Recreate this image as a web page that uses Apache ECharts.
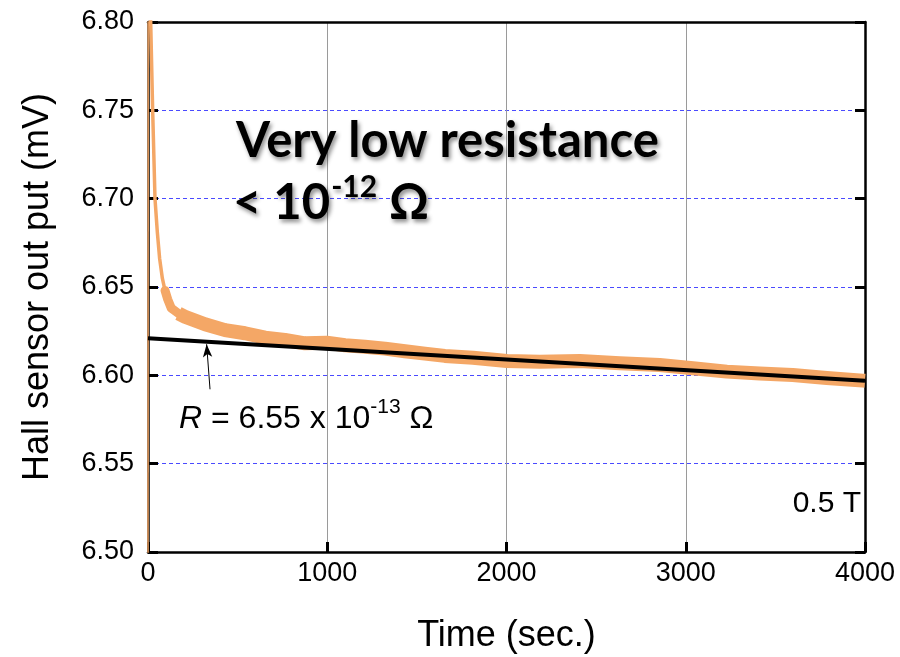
<!DOCTYPE html>
<html>
<head>
<meta charset="utf-8">
<script src="https://cdn.jsdelivr.net/npm/echarts@6/dist/echarts.min.js"></script>
<style>html,body{margin:0;padding:0;background:#fff;}#c{width:900px;height:657px;}</style>
</head>
<body>
<div id="c"></div>
<script>
// ---- data ----
var xTicks = [0, 1000, 2000, 3000, 4000];
var yTicks = [6.50, 6.55, 6.60, 6.65, 6.70, 6.75, 6.80];

// initial jump at t = 0 (thin vertical trace)
var jumpTime = [0, 1];
var jumpVal = [6.45, 6.87];

// steep decay part (thin trace)
var steepTime = [2, 8, 15, 26, 39, 52, 65, 80, 95, 110];
var steepVal  = [6.86, 6.84, 6.80, 6.75, 6.70, 6.681, 6.666, 6.655, 6.648, 6.643];

// elbow (medium width)
var elbowTime = [95, 110, 130, 170, 206, 260];
var elbowVal  = [6.648, 6.643, 6.638, 6.635, 6.6332, 6.631];

// measured band (thick trace)
var bandTime = [170, 206, 318, 430, 541, 653, 764, 876, 997, 1099, 1210, 1322, 1433, 1545, 1656, 1813, 2002, 2186, 2409, 2632, 2855, 3040, 3229, 3413, 3597, 3787, 3988, 4000];
var bandVal  = [6.6350, 6.6332, 6.6289, 6.6256, 6.6238, 6.6213, 6.6200, 6.6181, 6.6185, 6.6170, 6.6162, 6.6151, 6.6136, 6.6123, 6.6110, 6.6100, 6.6081, 6.6077, 6.6081, 6.6068, 6.6058, 6.6040, 6.6021, 6.6011, 6.6002, 6.5985, 6.5970, 6.5969];

// linear fit
var fitTime = [0, 4000];
var fitVal  = [6.621, 6.597];

// arrow annotation (tail -> head), data coordinates
var arrowTail = [346, 6.5921];
var arrowHead = [327, 6.6176];

function pairs(a, b) { return a.map(function (v, i) { return [v, b[i]]; }); }

var X_MIN = xTicks[0], X_MAX = xTicks[xTicks.length - 1];
var Y_MIN = yTicks[0], Y_MAX = yTicks[yTicks.length - 1];
var ORANGE = '#F4A766';
var chart = echarts.init(document.getElementById('c'), null, {renderer: 'canvas'});

var tickFont = {fontFamily: 'Liberation Sans', fontSize: 27, color: '#000'};
var shadow = {textShadowColor: 'rgba(0,0,0,0.45)', textShadowBlur: 4, textShadowOffsetX: 2, textShadowOffsetY: 3};
var frameLine = {show: true, onZero: false, lineStyle: {color: '#000', width: 2.5}};
var inTick = {show: true, inside: true, length: 10, lineStyle: {color: '#000', width: 3}};

chart.setOption({
  animation: false,
  backgroundColor: '#fff',
  grid: {left: 148, right: 35, top: 22, bottom: 105, containLabel: false, outerBoundsMode: 'none'},
  xAxis: [{
    type: 'value', min: X_MIN, max: X_MAX, interval: 1000,
    position: 'bottom',
    name: 'Time (sec.)', nameLocation: 'middle', nameGap: 66,
    nameTextStyle: {fontFamily: 'Liberation Sans', fontSize: 36, color: '#000'},
    axisLine: frameLine,
    axisTick: inTick,
    axisLabel: Object.assign({margin: 8, formatter: function (v) { return String(v); }}, tickFont),
    splitLine: {show: true, lineStyle: {color: '#9a9a9a', width: 1}}
  }, {
    type: 'value', min: X_MIN, max: X_MAX, interval: 1000, position: 'top',
    axisLine: frameLine,
    axisTick: {show: false}, axisLabel: {show: false}, splitLine: {show: false}
  }],
  yAxis: [{
    type: 'value', min: Y_MIN, max: Y_MAX, interval: 0.05, position: 'left',
    name: 'Hall sensor out put (mV)', nameLocation: 'middle', nameGap: 92,
    nameTextStyle: {fontFamily: 'Liberation Sans', fontSize: 36, color: '#000'},
    axisLine: frameLine,
    axisTick: inTick,
    axisLabel: Object.assign({margin: 14, formatter: function (v) { return v.toFixed(2); }}, tickFont),
    splitLine: {show: true, lineStyle: {color: '#4a4aff', width: 1, type: [4, 3]}}
  }, {
    type: 'value', min: Y_MIN, max: Y_MAX, interval: 0.05, position: 'right',
    axisLine: frameLine,
    axisTick: inTick,
    axisLabel: {show: false}, splitLine: {show: false}
  }],
  series: [{
    type: 'line', name: 'jump', data: pairs(jumpTime, jumpVal), showSymbol: false, symbol: 'none',
    lineStyle: {color: ORANGE, width: 1.5}, clip: true, z: 3
  }, {
    type: 'line', name: 'steep', data: pairs(steepTime, steepVal), showSymbol: false, symbol: 'none',
    lineStyle: {color: ORANGE, width: 3.5, join: 'round'}, clip: true, z: 3
  }, {
    type: 'line', name: 'elbow', data: pairs(elbowTime, elbowVal), showSymbol: false, symbol: 'none',
    lineStyle: {color: ORANGE, width: 9, join: 'round', cap: 'round'}, clip: true, z: 3
  }, {
    type: 'line', name: 'band', data: pairs(bandTime, bandVal), showSymbol: false, symbol: 'none',
    lineStyle: {color: ORANGE, width: 14, join: 'round'}, clip: true, z: 3
  }, {
    type: 'line', name: 'fit', data: pairs(fitTime, fitVal), showSymbol: false, symbol: 'none',
    lineStyle: {color: '#000', width: 4}, clip: true, z: 4,
    markLine: {
      silent: true, symbol: ['none', 'arrow'], symbolSize: [7, 13], animation: false,
      label: {show: false},
      lineStyle: {color: '#000', width: 1, type: 'solid'},
      data: [[{coord: arrowTail}, {coord: arrowHead}]]
    }
  }],
  graphic: [{
    id: 't1', type: 'text', left: 236, top: 117, z: 10,
    style: Object.assign({text: 'Very low resistance', font: 'bold 49px Lato', fill: '#000'}, shadow)
  }, {
    id: 't2', type: 'text', left: 233, top: 172, z: 10,
    style: {
      text: '{b|< 10}{s|-12}{b| Ω}',
      rich: {
        b: Object.assign({font: 'bold 49px Lato', fill: '#000', lineHeight: 56, verticalAlign: 'bottom'}, shadow),
        s: Object.assign({font: 'bold 30px Lato', fill: '#000', lineHeight: 56, verticalAlign: 'top', padding: [0, 0, 0, 1]}, shadow)
      }
    }
  }, {
    id: 't3', type: 'text', left: 179, top: 397, z: 10,
    style: {
      text: '{i|R}{n| = 6.55 x 10}{s|-13}{n| Ω}',
      rich: {
        i: {font: 'italic 32px "Liberation Sans"', fill: '#000', lineHeight: 38, verticalAlign: 'bottom'},
        n: {font: '32px "Liberation Sans"', fill: '#000', lineHeight: 38, verticalAlign: 'bottom'},
        s: {font: '21px "Liberation Sans"', fill: '#000', lineHeight: 38, verticalAlign: 'top'}
      }
    }
  }, {
    id: 't4', type: 'text', right: 39, top: 489, z: 10,
    style: {text: '0.5 T', font: '30px "Liberation Sans"', fill: '#000'}
  }]
});
</script>
</body>
</html>
